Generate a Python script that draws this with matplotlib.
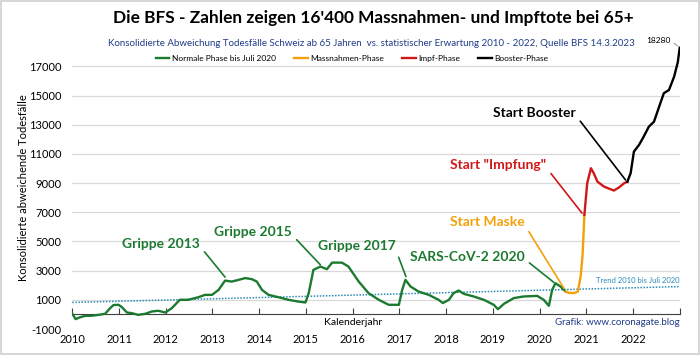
import matplotlib
matplotlib.use("Agg")
import matplotlib.pyplot as plt
from matplotlib.patches import Rectangle
from matplotlib.lines import Line2D

plt.rcParams['font.family'] = ['Lato', 'DejaVu Sans']

# --- data (decimal year, deviation in deaths) ---
green_x = [2010.00, 2010.07, 2010.17, 2010.27, 2010.42, 2010.56, 2010.70, 2010.81, 2010.88, 2010.99,
           2011.06, 2011.17, 2011.27, 2011.41, 2011.56, 2011.70, 2011.84, 2011.99, 2012.13, 2012.30,
           2012.48, 2012.70, 2012.84, 2012.99, 2013.13, 2013.27, 2013.41, 2013.56, 2013.70, 2013.84,
           2013.95, 2014.06, 2014.20, 2014.41, 2014.63, 2014.84, 2014.99, 2015.06, 2015.16, 2015.31,
           2015.45, 2015.56, 2015.77, 2015.91, 2016.13, 2016.34, 2016.56, 2016.77, 2016.99, 2017.06,
           2017.13, 2017.24, 2017.41, 2017.63, 2017.84, 2017.93, 2018.06, 2018.16, 2018.27, 2018.38,
           2018.59, 2018.81, 2019.02, 2019.11, 2019.24, 2019.45, 2019.66, 2019.95, 2020.09, 2020.20,
           2020.27, 2020.34, 2020.45, 2020.56]
green_y = [50, -320, -190, -100, -90, -30, 40, 430, 640, 660,
           500, 130, 90, -30, 40, 200, 250, 130, 430, 1000,
           1000, 1180, 1340, 1340, 1680, 2320, 2250, 2370, 2490, 2420,
           2250, 1680, 1340, 1180, 1000, 880, 820, 1460, 3050, 3280,
           3100, 3550, 3550, 3280, 2250, 1460, 1000, 660, 660, 1680,
           2370, 1910, 1570, 1340, 1000, 780, 1000, 1460, 1640, 1410,
           1230, 1000, 660, 360, 730, 1120, 1230, 1270, 1000, 590,
           1680, 2140, 1910, 1570]

orange_x = [2020.56, 2020.62, 2020.74, 2020.82, 2020.88, 2020.92, 2020.96]
orange_y = [1570, 1480, 1460, 1570, 2600, 4000, 6820]

red_x = [2020.96, 2021.02, 2021.10, 2021.16, 2021.24, 2021.38, 2021.59, 2021.70, 2021.81, 2021.88]
red_y = [6820, 8990, 10020, 9680, 9100, 8760, 8490, 8700, 8990, 9100]

black_x = [2021.88, 2021.95, 2022.02, 2022.13, 2022.23, 2022.34, 2022.45, 2022.56, 2022.66, 2022.77,
           2022.88, 2022.96, 2023.00]
black_y = [9100, 9680, 11160, 11620, 12190, 12870, 13210, 14240, 15160, 15380,
           16290, 17300, 18280]

trend_x = [2010.0, 2023.0]
trend_y = [820, 1910]

years = list(range(2010, 2023))
yticks = [-1000, 1000, 3000, 5000, 7000, 9000, 11000, 13000, 15000, 17000]

c_green = '#1b7a30'
c_orange = '#f5a00a'
c_red = '#d01818'
c_trend = '#2a8cb8'
c_blue = '#1f3c88'

fig = plt.figure(figsize=(7, 3.55), dpi=100)
ax = fig.add_axes([0.1033, 0.0732, 0.8677, 0.822])

# horizontal grid
for v in yticks[1:]:
    ax.axhline(v, color='#d9d9d9', lw=0.9, zorder=0)

ax.plot(trend_x, trend_y, color=c_trend, lw=1.1, ls=(0, (1, 1)), zorder=2)
ax.plot(green_x, green_y, color=c_green, lw=1.7, zorder=3)
ax.plot(orange_x, orange_y, color=c_orange, lw=1.7, zorder=3)
ax.plot(red_x, red_y, color=c_red, lw=1.7, zorder=3)
ax.plot(black_x, black_y, color='black', lw=1.7, zorder=3)

ax.set_xlim(2010, 2023)
ax.set_ylim(-1000, 19000)
for s in ['top', 'right', 'left']:
    ax.spines[s].set_visible(False)
ax.spines['bottom'].set_position(('data', 0))
ax.spines['bottom'].set_color('#404040')
ax.set_xticks(range(2010, 2024))
ax.tick_params(axis='x', direction='in', length=4, color='#404040', labelbottom=False)
ax.set_yticks(yticks)
ax.set_yticklabels([str(v) for v in yticks], fontsize=8)
ax.tick_params(axis='y', length=0, pad=8)

# year labels below the plot
for yr in years:
    ax.text(yr, -1700, str(yr), ha='center', va='center', fontsize=8)

ax.set_ylabel('Konsolidierte abweichende Todesfälle', fontsize=8)
ax.yaxis.set_label_coords(-0.071, 0.486)
ax.text(2016.0, -550, 'Kalenderjahr', ha='center', va='center', fontsize=7.5)
ax.text(2023.0, -550, 'Grafik: www.coronagate.blog', ha='right', va='center',
        fontsize=7, color=c_blue)
ax.text(2023.0, 2350, 'Trend 2010 bis Juli 2020', ha='right', va='center',
        fontsize=5.5, color=c_trend)

# end value label
ax.annotate('18280', xy=(2023.0, 18280), xytext=(2022.8, 18800), fontsize=6,
            ha='right', va='center',
            arrowprops=dict(arrowstyle='-', color='#808080', lw=0.6, shrinkA=1, shrinkB=2,
                            relpos=(1.0, 0.5)))

notes = [
    ('Grippe 2013', (2011.90, 4836), (2013.27, 2555), c_green),
    ('Grippe 2015', (2013.87, 5623), (2015.31, 3397), c_green),
    ('Grippe 2017', (2016.08, 4699), (2017.14, 2596), c_green),
    ('SARS-CoV-2 2020', (2018.45, 3966), (2020.31, 2185), c_green),
    ('Start Maske', (2018.88, 6308), (2020.52, 1801), c_orange),
    ('Start "Impfung"', (2019.12, 10212), (2020.91, 6938), c_red),
    ('Start Booster', (2019.89, 13808), (2021.84, 9219), 'black'),
]
for label, txy, pxy, col in notes:
    ax.annotate(label, xy=pxy, xytext=txy, ha='center', va='center', fontsize=10,
                fontweight='bold', color=col, zorder=4,
                arrowprops=dict(arrowstyle='-', color=col, lw=1.2, relpos=(1.0, 0.3),
                                shrinkA=2, shrinkB=0))

fig.text(0.534, 0.948, "Die BFS - Zahlen zeigen 16'400 Massnahmen- und Impftote bei 65+",
         ha='center', va='center', fontsize=12.4, fontweight='bold')
fig.text(0.531, 0.878, 'Konsolidierte Abweichung Todesfälle Schweiz ab 65 Jahren  vs. statistischer '
         'Erwartung 2010 - 2022, Quelle BFS 14.3.2023', ha='center', va='center',
         fontsize=7, color=c_blue)

handles = [Line2D([], [], color=c, lw=1.7) for c in [c_green, c_orange, c_red, 'black']]
fig.legend(handles, ['Normale Phase bis Juli 2020', 'Massnahmen-Phase', 'Impf-Phase', 'Booster-Phase'],
           loc='center', bbox_to_anchor=(0.503, 0.836), ncol=4, frameon=False, fontsize=6,
           handlelength=1.6, handletextpad=0.3, columnspacing=2.2)

fig.patches.append(Rectangle((0.002, 0.003), 0.996, 0.994, transform=fig.transFigure,
                             fill=False, edgecolor='#d0d0d0', lw=1.2))

fig.savefig('out.png', dpi=100)
